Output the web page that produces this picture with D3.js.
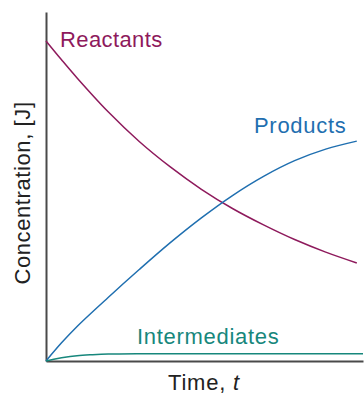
<!DOCTYPE html>
<html>
<head>
<meta charset="utf-8">
<script src="https://cdn.jsdelivr.net/npm/d3@7"></script>
<style>
  html, body { margin: 0; padding: 0; background: #fff; }
  svg { display: block; }
  text { font-family: "Liberation Sans", Arial, sans-serif; }
</style>
</head>
<body>
<div id="chart"></div>
<script>
// time points (arbitrary units) and concentrations
const time = [0, 0.5, 1, 2, 3, 4, 5, 6, 7, 8, 9, 10];
const reactants = [0.917, 0.863, 0.811, 0.714, 0.629, 0.556, 0.492, 0.437, 0.390, 0.348, 0.312, 0.281];
const products = [0, 0.052, 0.099, 0.182, 0.262, 0.339, 0.410, 0.474, 0.529, 0.574, 0.607, 0.630];

const intermediatesTime = [0, 0.25, 0.5, 1, 1.5, 2, 3, 5, 7, 9, 10.2];
const intermediates = [0, 0.005, 0.009, 0.015, 0.018, 0.020, 0.021, 0.021, 0.021, 0.021, 0.021];

const seriesNames = ['Reactants', 'Products', 'Intermediates'];

function renderChart() {
    const width = 364;
    const height = 394;

    const svg = d3.select('#chart').append('svg')
        .attr('width', width)
        .attr('height', height);

    const x = d3.scaleLinear().domain([0, 10.2]).range([46, 363]);
    const y = d3.scaleLinear().domain([0, 1]).range([361, 12]);

    const colors = {
        Reactants: '#8e1a5c',
        Products: '#1f6fb0',
        Intermediates: '#17877c'
    };

    // axes with no ticks, just the lines
    const axisStyle = g => g.select('.domain')
        .attr('stroke', '#4a4a4a')
        .attr('stroke-width', 2);

    svg.append('g')
        .attr('transform', `translate(0,${y(0)})`)
        .call(d3.axisBottom(x).ticks(0).tickSizeOuter(0))
        .call(axisStyle);

    svg.append('g')
        .attr('transform', `translate(${x(0)},0)`)
        .call(d3.axisLeft(y).ticks(0).tickSizeOuter(0))
        .call(axisStyle);

    const line = d3.line()
        .x(d => x(d[0]))
        .y(d => y(d[1]))
        .curve(d3.curveCatmullRom);

    const series = [
        { name: seriesNames[0], pts: d3.zip(time, reactants) },
        { name: seriesNames[1], pts: d3.zip(time, products) },
        { name: seriesNames[2], pts: d3.zip(intermediatesTime, intermediates) }
    ];

    svg.selectAll('path.series')
        .data(series)
        .enter()
        .append('path')
        .attr('class', 'series')
        .attr('d', d => line(d.pts))
        .attr('fill', 'none')
        .attr('stroke', d => colors[d.name])
        .attr('stroke-width', 1.5);

    // curve labels
    const labelPos = {
        Reactants: [60, 47],
        Products: [254, 133],
        Intermediates: [137, 344]
    };
    svg.selectAll('text.series-label')
        .data(seriesNames)
        .enter()
        .append('text')
        .attr('class', 'series-label')
        .attr('x', d => labelPos[d][0])
        .attr('y', d => labelPos[d][1])
        .attr('fill', d => colors[d])
        .attr('font-size', 22)
        .attr('letter-spacing', d => d === 'Reactants' ? 0.4 : 0.7)
        .text(d => d);

    // axis titles
    const xTitle = svg.append('text')
        .attr('x', 168)
        .attr('y', 390)
        .attr('fill', '#222')
        .attr('font-size', 22)
        .attr('letter-spacing', 0.8);
    xTitle.append('tspan').text('Time, ');
    xTitle.append('tspan').attr('font-style', 'italic').text('t');

    svg.append('text')
        .attr('transform', 'translate(30,193) rotate(-90)')
        .attr('text-anchor', 'middle')
        .attr('fill', '#222')
        .attr('font-size', 22)
        .attr('letter-spacing', 0.6)
        .text('Concentration, [J]');
}

renderChart();
</script>
</body>
</html>
